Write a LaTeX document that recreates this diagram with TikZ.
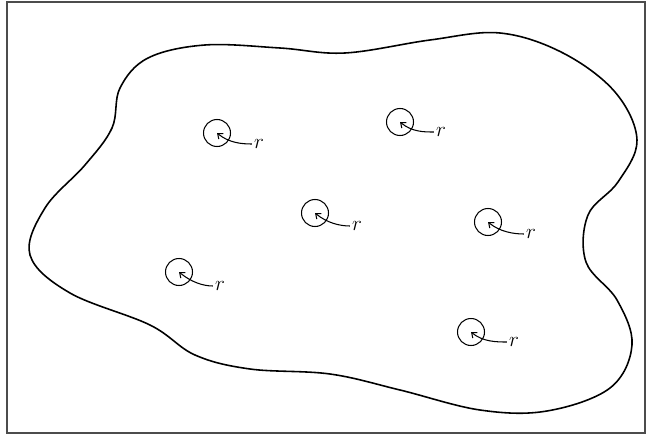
\documentclass[tikz,border=0pt]{standalone}
\usepackage{tikz}
\usetikzlibrary{arrows.meta}

\begin{document}
\begin{tikzpicture}[x=0.02cm, y=-0.02cm, hole/.style={draw, circle, line
      width=0.6pt, minimum size=0.54cm, inner sep=0pt}, lbl/.style={font=\large,
      inner sep=1pt}, lead/.style={{Straight Barb[length=2.5pt,width=4pt]}-,
      line width=0.6pt}, outline/.style={line width=0.9pt}]

    \useasboundingbox (0,0) rectangle (649,439);

    % frame
    \draw[line width=1pt, black!70] (7,2) rectangle (645,433);

    % region
    \draw[outline] plot[smooth cycle, tension=0.6] coordinates {(112,128)
    (120,88) (148,58) (205,45) (280,48) (345,53) (430,40) (500,33) (563,53)
    (615,92) (637,140) (618,182) (588,215) (586,262) (617,300) (632,345)
    (610,388) (547,411) (480,410) (400,390) (330,374) (250,369) (195,355)
    (150,325) (70,293) (30,255) (45,208) (85,165)};

    % holes
    \node[hole] (h1) at (217,133) {}; \node[lbl] (r1) at (259,144) {$r$};
    \node[hole] (h2) at (400,122) {}; \node[lbl] (r2) at (441,132) {$r$};
    \node[hole] (h3) at (315,213) {}; \node[lbl] (r3) at (357,226) {$r$};
    \node[hole] (h4) at (488,222) {}; \node[lbl] (r4) at (531,234) {$r$};
    \node[hole] (h5) at (179,272) {}; \node[lbl] (r5) at (220,286) {$r$};
    \node[hole] (h6) at (471,332) {}; \node[lbl] (r6) at (514,342) {$r$};

    \draw[lead] (h1.center) .. controls +(12,10) and +(-10,0) .. (r1.west);
    \draw[lead] (h2.center) .. controls +(12,10) and +(-10,0) .. (r2.west);
    \draw[lead] (h3.center) .. controls +(12,10) and +(-10,0) .. (r3.west);
    \draw[lead] (h4.center) .. controls +(12,10) and +(-10,0) .. (r4.west);
    \draw[lead] (h5.center) .. controls +(12,10) and +(-10,0) .. (r5.west);
    \draw[lead] (h6.center) .. controls +(12,10) and +(-10,0) .. (r6.west);

  \end{tikzpicture}
\end{document}
